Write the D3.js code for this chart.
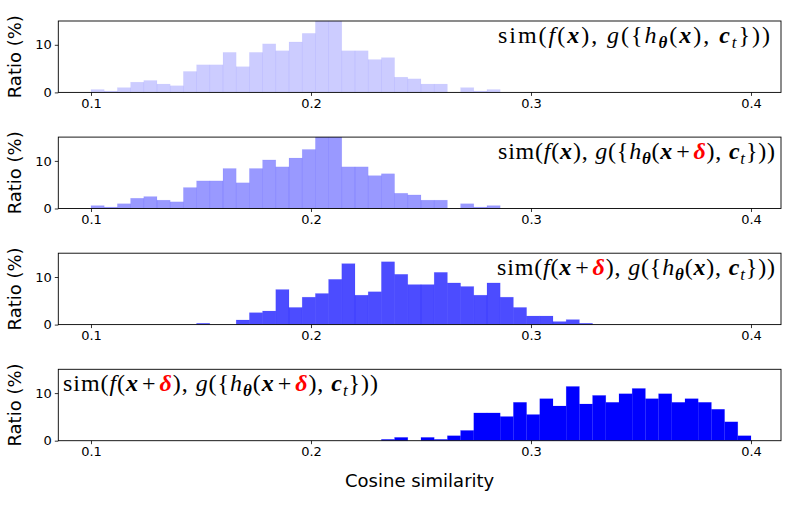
<!DOCTYPE html>
<html>
<head>
<meta charset="utf-8">
<script src="https://cdn.jsdelivr.net/npm/d3@7"></script>
<style>
  body { margin: 0; background: #fff; }
  svg text { font-family: "DejaVu Sans", sans-serif; }
  .math { font-family: "Liberation Serif", "DejaVu Serif", serif; font-size: 24px; }
</style>
</head>
<body>
<svg id="chart" width="789" height="506"></svg>
<script>
// histogram bins: 50 bins between 0.1 and 0.4 (width 0.006)
var binLo = 0.1, binHi = 0.4, nBins = 50

// density (%) per bin
var ratioClean = [0.6, 0.3, 1.0, 2.15, 2.5, 1.75, 1.4, 4.4, 5.8, 5.8,
	8.4, 5.4, 8.4, 10.2, 8.75, 10.6, 12.4, 16.5, 17.2, 8.75,
	8.75, 6.9, 7.3, 3.2, 2.85, 1.75, 1.75, 0, 1.0, 0.3,
	0.6, 0, 0, 0, 0, 0, 0, 0, 0, 0,
	0, 0, 0, 0, 0, 0, 0, 0, 0, 0]
var ratioCleanAdvH = [0.6, 0.3, 1.0, 2.15, 2.5, 1.75, 1.4, 4.4, 5.8, 5.8,
	8.4, 5.4, 8.4, 10.2, 8.75, 10.6, 12.4, 16.5, 17.2, 8.75,
	8.75, 6.9, 7.3, 3.2, 2.85, 1.75, 1.75, 0, 1.0, 0.3,
	0.6, 0, 0, 0, 0, 0, 0, 0, 0, 0,
	0, 0, 0, 0, 0, 0, 0, 0, 0, 0]
var ratioAdvF = [0, 0, 0, 0, 0, 0, 0, 0, 0.28, 0,
	0, 0.97, 2.5, 2.85, 7.36, 3.6, 5.76, 6.53, 9.5, 12.8,
	6.18, 6.9, 13.2, 10.56, 8.4, 8.4, 10.97, 8.75, 8.0, 6.18,
	8.75, 5.76, 3.6, 1.8, 1.8, 0.63, 1.04, 0.28, 0, 0,
	0, 0, 0, 0, 0, 0, 0, 0, 0, 0]
var ratioAdvBoth = [0, 0, 0, 0, 0, 0, 0, 0, 0, 0,
	0, 0, 0, 0, 0, 0, 0, 0, 0, 0,
	0, 0, 0.28, 0.69, 0, 0.69, 0.28, 1.04, 2.15, 5.83,
	5.83, 5.07, 8.06, 5.49, 8.82, 7.29, 11.39, 7.71, 9.51, 8.06,
	9.86, 10.97, 8.82, 9.86, 8.06, 8.82, 8.06, 6.6, 3.96, 1.04]

var xTicks = [0.1, 0.2, 0.3, 0.4]
var yTicks = [0, 10]

// legend labels as [text, style] pieces
var labels = [
	[["sim(", "r"], ["f", "i"], ["(", "r"], ["x", "b"], "), ", ["g", "i"], ["({", "r"], ["h", "i"], ["θ", "bs"], ["(", "r"], ["x", "b"], ["), ", "r"], ["c", "b"], ["t", "is"], ["}))", "r"]],
	[["sim(", "r"], ["f", "i"], ["(", "r"], ["x", "b"], "), ", ["g", "i"], ["({", "r"], ["h", "i"], ["θ", "bs"], ["(", "r"], ["x", "b"], ["+", "p"], ["δ", "d"], ["), ", "r"], ["c", "b"], ["t", "is"], ["}))", "r"]],
	[["sim(", "r"], ["f", "i"], ["(", "r"], ["x", "b"], ["+", "p"], ["δ", "d"], "), ", ["g", "i"], ["({", "r"], ["h", "i"], ["θ", "bs"], ["(", "r"], ["x", "b"], ["), ", "r"], ["c", "b"], ["t", "is"], ["}))", "r"]],
	[["sim(", "r"], ["f", "i"], ["(", "r"], ["x", "b"], ["+", "p"], ["δ", "d"], "), ", ["g", "i"], ["({", "r"], ["h", "i"], ["θ", "bs"], ["(", "r"], ["x", "b"], ["+", "p"], ["δ", "d"], ["), ", "r"], ["c", "b"], ["t", "is"], ["}))", "r"]]
]

var panels = [
	{ratio: ratioClean, alpha: 0.2, label: labels[0], lx: 498, lw: 272},
	{ratio: ratioCleanAdvH, alpha: 0.4, label: labels[1], lx: 498, lw: 277},
	{ratio: ratioAdvF, alpha: 0.7, label: labels[2], lx: 497, lw: 278},
	{ratio: ratioAdvBoth, alpha: 1.0, label: labels[3], lx: 63, lw: 315}
]

var svg = d3.select("#chart")
var left = 58.3, right = 781
var top0 = 21, step = 116.1, plotH = 71.4

var x = d3.scaleLinear()
	.domain([0.08514, 0.41364])
	.range([left, right])

var binW = (binHi - binLo) / nBins

panels.forEach(function(p, i) {
	var top = top0 + i * step
	var y = d3.scaleLinear()
		.domain([0, 15])
		.range([top + plotH, top])

	var g = svg.append("g")

	var clipId = "clip" + i
	svg.append("clipPath").attr("id", clipId)
		.append("rect")
		.attr("x", left).attr("y", top)
		.attr("width", right - left).attr("height", plotH)

	g.append("g")
		.attr("clip-path", "url(#" + clipId + ")")
		.selectAll("rect")
		.data(p.ratio)
		.enter()
		.append("rect")
		.attr("x", function(d, k) { return x(binLo + k * binW) })
		.attr("width", function(d, k) { return x(binLo + (k + 1) * binW) - x(binLo + k * binW) })
		.attr("y", function(d) { return y(d) })
		.attr("height", function(d) { return y(0) - y(d) })
		.style("fill", "blue")
		.style("fill-opacity", p.alpha)
		.style("stroke", "blue")
		.style("stroke-opacity", p.alpha * 0.25)
		.style("stroke-width", 0.6)

	var xAxis = g.append("g")
		.attr("transform", "translate(0," + (top + plotH) + ")")
		.call(d3.axisBottom(x).tickValues(xTicks).tickFormat(d3.format(".1f")).tickSize(3.5).tickPadding(3))
	xAxis.select(".domain").remove()
	xAxis.selectAll("text").style("font-size", "13px").style("font-family", "DejaVu Sans")
	xAxis.selectAll("line").style("stroke-width", 0.8)

	var yAxis = g.append("g")
		.attr("transform", "translate(" + left + ",0)")
		.call(d3.axisLeft(y).tickValues(yTicks).tickFormat(d3.format("d")).tickSize(3.5).tickPadding(3))
	yAxis.select(".domain").remove()
	yAxis.selectAll("text").style("font-size", "13px").style("font-family", "DejaVu Sans")
	yAxis.selectAll("line").style("stroke-width", 0.8)

	g.append("rect")
		.attr("x", left).attr("y", top)
		.attr("width", right - left).attr("height", plotH)
		.style("fill", "none")
		.style("stroke", "black")
		.style("stroke-width", 0.9)

	g.append("text")
		.attr("transform", "translate(21," + (top + plotH / 2) + ")rotate(-90)")
		.attr("text-anchor", "middle")
		.style("font-size", "18px")
		.text("Ratio (%)")

	// legend label, stretched to the measured width
	var t = g.append("text")
		.attr("class", "math")
		.attr("x", p.lx)
		.attr("y", top + 22)
		.attr("textLength", p.lw)
		.attr("lengthAdjust", "spacing")
	var shifted = false, afterPlus = false
	p.label.forEach(function(s) {
		if (typeof s == "string") s = [s, "r"]
		var ts = t.append("tspan").text(s[0])
		var sub = s[1] == "bs" || s[1] == "is"
		if (sub && !shifted) { ts.attr("dy", 5); shifted = true }
		else if (!sub && shifted) { ts.attr("dy", -5); shifted = false }
		if (sub) ts.style("font-size", "17px")
		if (s[1] == "p" || afterPlus) ts.attr("dx", 3)
		afterPlus = s[1] == "p"
		if (s[1] == "i" || s[1] == "is") ts.style("font-style", "italic")
		if (s[1] == "b" || s[1] == "bs" || s[1] == "d") ts.style("font-style", "italic").style("font-weight", "bold")
		if (s[1] == "d") ts.style("fill", "red")
	})
})

svg.append("text")
	.attr("x", (left + right) / 2)
	.attr("y", 487)
	.attr("text-anchor", "middle")
	.style("font-size", "18px")
	.text("Cosine similarity")
</script>
</body>
</html>
